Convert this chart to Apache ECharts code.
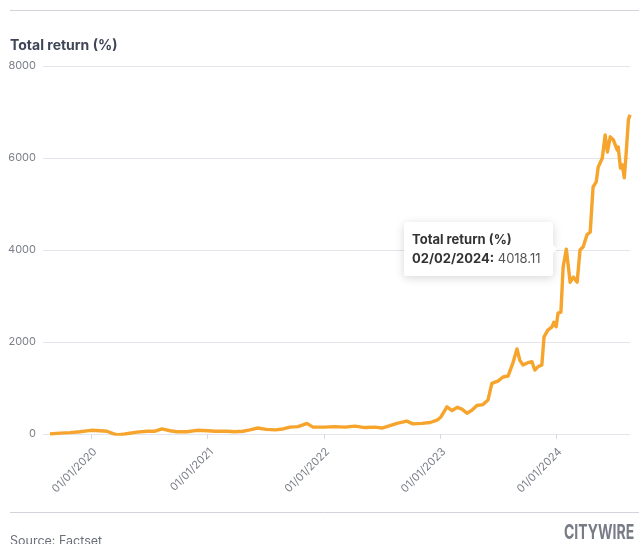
<!DOCTYPE html>
<html>
<head>
<meta charset="utf-8">
<script src="https://cdn.jsdelivr.net/npm/echarts@6/dist/echarts.min.js"></script>
<style>
html,body{margin:0;padding:0;background:#fff;}
#c{width:639px;height:544px;}
</style>
</head>
<body>
<div id="c"></div>
<script>
const seriesName = 'Total return (%)';
const dates = [
'2019-08-25','2019-09-26','2019-10-27','2019-11-27','2020-01-01','2020-01-29','2020-02-20','2020-03-10','2020-03-23','2020-04-17',
'2020-05-24','2020-06-25','2020-07-20','2020-08-11','2020-09-05','2020-09-27','2020-10-28','2020-11-29','2021-01-02','2021-01-24',
'2021-03-03','2021-03-28','2021-04-22','2021-05-14','2021-06-08','2021-07-04','2021-08-01','2021-08-26','2021-09-17','2021-10-12',
'2021-10-28','2021-11-09','2021-11-28','2022-01-02','2022-02-05','2022-03-09','2022-04-09','2022-05-10','2022-06-11','2022-07-03',
'2022-07-28','2022-08-19','2022-09-19','2022-10-08','2022-11-06','2022-12-01','2022-12-23','2023-01-04','2023-01-23','2023-02-08',
'2023-02-24','2023-03-11','2023-03-27','2023-04-12','2023-04-27','2023-05-16','2023-06-01','2023-06-13','2023-07-02','2023-07-18',
'2023-08-03','2023-08-18','2023-08-31','2023-09-09','2023-09-19','2023-10-04','2023-10-17','2023-10-26','2023-11-05','2023-11-17',
'2023-11-24','2023-12-06','2023-12-19','2023-12-25','2024-01-01','2024-01-07','2024-01-16','2024-01-23','2024-02-02','2024-02-14',
'2024-02-24','2024-03-07','2024-03-16','2024-03-26','2024-04-07','2024-04-17','2024-04-26','2024-05-06','2024-05-12','2024-05-25',
'2024-06-03','2024-06-10','2024-06-19','2024-06-29','2024-07-11','2024-07-14','2024-07-21','2024-07-27','2024-08-02','2024-08-08',
'2024-08-15','2024-08-20'
];
const values = [
0,20,30,50,80,70,60,10,-20,0,
40,60,60,110,70,50,50,80,70,60,
60,50,60,90,130,100,90,110,150,160,
200,230,150,150,160,150,170,140,150,130,
180,230,280,220,230,250,300,370,590,510,
580,540,450,520,620,640,740,1100,1150,1240,
1260,1540,1850,1600,1500,1550,1570,1390,1460,1500,
2110,2260,2330,2430,2330,2630,2650,3630,4018.11,3300,
3410,3300,4000,4070,4330,4390,5370,5480,5800,6000,
6500,6130,6460,6390,6170,6240,5780,5850,5570,6110,
6830,6940
];
const yTicks = [0, 2000, 4000, 6000, 8000];
const xTickDates = ['2020-01-01','2021-01-01','2022-01-01','2023-01-01','2024-01-01'];
const xRange = ['2019-08-03', '2024-08-20'];
const highlightDate = '2024-02-02';

const FONT = 'Inter, "Noto Sans", sans-serif';
const chart = echarts.init(document.getElementById('c'), null, {renderer:'canvas'});
const toTs = d => Date.parse(d + 'T00:00:00Z');
const xTicks = xTickDates.map(toTs);
const data = dates.map((d,i) => [toTs(d), values[i]]);
function fmt(ts){
  const d = new Date(ts);
  const p = n => String(n).padStart(2,'0');
  return p(d.getUTCDate()) + '/' + p(d.getUTCMonth()+1) + '/' + d.getUTCFullYear();
}
const hiIdx = dates.indexOf(highlightDate);

chart.setOption({
  animation: false,
  backgroundColor: '#fff',
  textStyle: {fontFamily: FONT},
  grid: {left: 43, right: 9, top: 66, bottom: 110, containLabel: false},
  graphic: [
    {type:'line', shape:{x1:10,y1:10.5,x2:639,y2:10.5}, style:{stroke:'#d3d3de', lineWidth:1}},
    {type:'line', shape:{x1:10,y1:512.5,x2:639,y2:512.5}, style:{stroke:'#d3d3de', lineWidth:1}},
    {type:'text', left:10, top:39, style:{text: seriesName, font:'bold 14px ' + FONT, fill:'#3e4556'}},
    {type:'text', left:10, top:535, style:{text:'Source: Factset', font:'12.5px ' + FONT, fill:'#6b6f78'}},
    {type:'text', x:564, y:533, scaleX:0.7, style:{text:'CITYWIRE', font:'bold 20px ' + FONT, fill:'#767b85', verticalAlign:'middle'}}
  ],
  xAxis: {
    type: 'value',
    min: toTs(xRange[0]),
    max: toTs(xRange[1]),
    axisLine: {show: false},
    axisTick: {show: true, length: 5, lineStyle:{color:'#d8d8e0'}, customValues: xTicks},
    axisLabel: {
      customValues: xTicks,
      rotate: 45,
      color: '#7b7f89',
      fontSize: 11,
      fontFamily: FONT,
      margin: 12,
      verticalAlign: 'top',
      formatter: v => fmt(v)
    },
    splitLine: {show: false}
  },
  yAxis: {
    type: 'value',
    min: 0, max: 8000, interval: 2000,
    axisLine: {show:false},
    axisTick: {show:false},
    axisLabel: {color:'#7b7f89', fontSize: 11, fontFamily: FONT, margin: 7, formatter: v => String(v)},
    splitLine: {lineStyle:{color:'#e4e4ea', width:1}}
  },
  tooltip: {
    trigger: 'item',
    alwaysShowContent: true,
    showDelay: 0,
    transitionDuration: 0,
    position: 'left',
    backgroundColor: '#fff',
    borderWidth: 0,
    padding: [8, 12, 8, 8],
    extraCssText: 'box-shadow:0 2px 10px rgba(0,0,0,0.16);border-radius:2px;margin-left:-5px;',
    textStyle: {fontFamily: FONT, fontSize: 13, color:'#333'},
    formatter: p => '<div style="line-height:19px;font-family:Inter,sans-serif;font-size:13px;color:#333">' +
      '<b>' + seriesName + '</b><br/><b>' + fmt(p.value[0]) + ':</b> <span style="color:#555">' + p.value[1] + '</span></div>'
  },
  series: [{
    name: seriesName,
    type: 'line',
    data: data,
    showSymbol: true,
    symbol: 'circle',
    symbolSize: 1,
    smooth: false,
    lineStyle: {color:'#f6a42c', width: 3.4, join:'round'},
    itemStyle: {color:'#f6a42c', opacity: 0},
    emphasis: {disabled: true}
  }]
});
chart.dispatchAction({type:'showTip', seriesIndex:0, dataIndex: hiIdx});
</script>
</body>
</html>
